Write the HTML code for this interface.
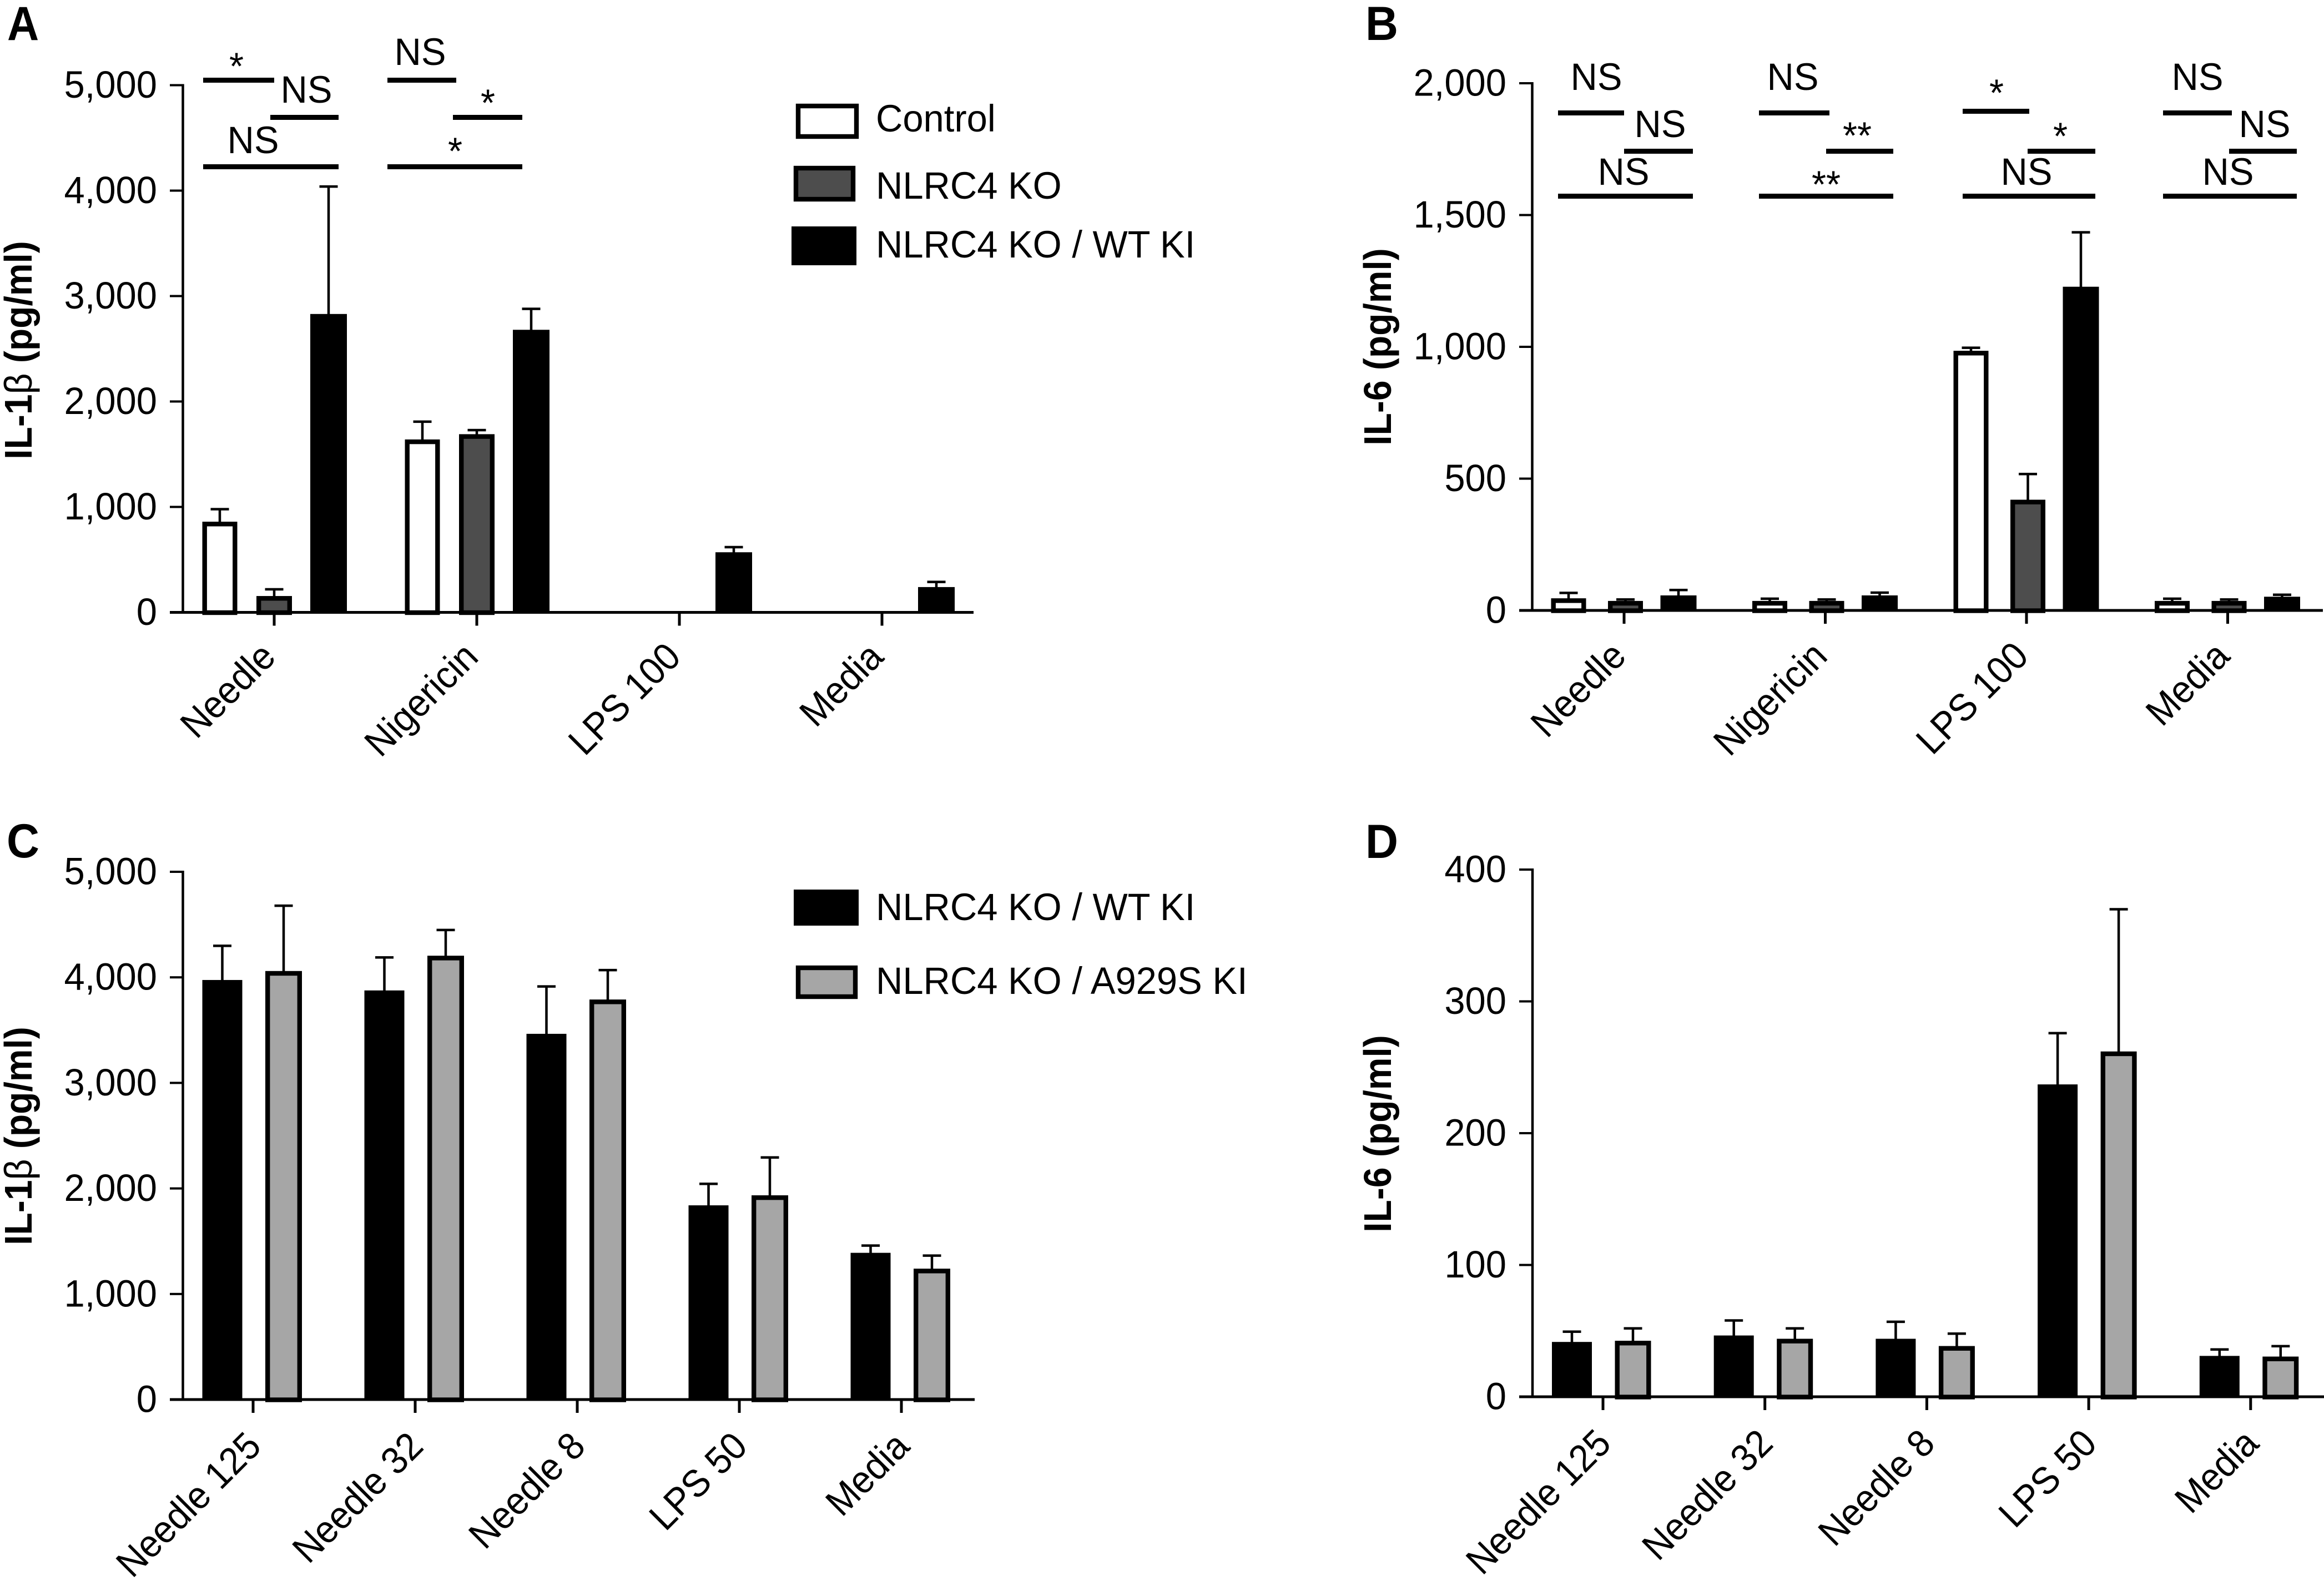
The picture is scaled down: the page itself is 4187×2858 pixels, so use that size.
<!DOCTYPE html>
<html lang="en">
<head>
<meta charset="utf-8">
<title>IL-1β and IL-6 bar charts</title>
<style>
html,body{margin:0;padding:0;background:#fff;}
svg{display:block;}
text{font-family:"Liberation Sans",sans-serif;fill:#000;}
.t{font-size:69px;}
.b{font-size:66px;font-weight:bold;}
.bn{font-weight:normal;}
.l{font-size:86px;font-weight:bold;}
.s{fill:#000;}
</style>
</head>
<body>
<svg id="fig" xmlns="http://www.w3.org/2000/svg" width="4187" height="2858" viewBox="0 0 4187 2858">
<rect width="4187" height="2858" fill="#fff"/>

<g id="panel-a">
  <text class="l" transform="translate(13 72) scale(.92 1)">A</text>
  <text class="b" text-anchor="middle" transform="translate(57 631) scale(1.06 1) rotate(-90)">IL-1<tspan class="bn">β</tspan> (pg/ml)</text>
  <g>
    <rect class="s" x="366" y="140" width="128" height="9"/>
    <rect class="s" x="487" y="207" width="123" height="9"/>
    <rect class="s" x="366" y="296" width="244" height="9"/>
    <rect class="s" x="698" y="140" width="124" height="9"/>
    <rect class="s" x="816" y="207" width="125" height="9"/>
    <rect class="s" x="698" y="296" width="243" height="9"/>
    <text class="t" text-anchor="middle" transform="translate(426 143) scale(.97 1)">*</text>
    <text class="t" text-anchor="middle" transform="translate(552 185) scale(.97 1)">NS</text>
    <text class="t" text-anchor="middle" transform="translate(456 276) scale(.97 1)">NS</text>
    <text class="t" text-anchor="middle" transform="translate(757 117) scale(.97 1)">NS</text>
    <text class="t" text-anchor="middle" transform="translate(879 209) scale(.97 1)">*</text>
    <text class="t" text-anchor="middle" transform="translate(820 296) scale(.97 1)">*</text>
  </g>
  <g>
    <rect x="1438" y="191" width="105" height="55" fill="#fff" stroke="#000" stroke-width="8.4"/>
    <rect x="1434" y="303" width="103" height="56" fill="#4d4d4d" stroke="#000" stroke-width="8.4"/>
    <rect x="1426" y="408" width="117" height="70" fill="#000"/>
    <text class="t" transform="translate(1578 237) scale(.97 1)">Control</text>
    <text class="t" transform="translate(1578 358) scale(.97 1)">NLRC4 KO</text>
    <text class="t" transform="translate(1578 464) scale(.97 1)">NLRC4 KO / WT KI</text>
  </g>
</g>

<g id="panel-b">
  <text class="l" transform="translate(2460 72) scale(.95 1)">B</text>
  <text class="b" text-anchor="middle" transform="translate(2506 625) scale(1.06 1) rotate(-90)">IL-6 (pg/ml)</text>
  <g>
    <rect class="s" x="2807" y="199" width="119" height="9"/>
    <rect class="s" x="2926" y="268" width="124" height="9"/>
    <rect class="s" x="2807" y="349" width="243" height="9"/>
    <rect class="s" x="3169" y="199" width="127" height="9"/>
    <rect class="s" x="3290" y="268" width="121" height="9"/>
    <rect class="s" x="3169" y="349" width="242" height="9"/>
    <rect class="s" x="3536" y="196" width="120" height="9"/>
    <rect class="s" x="3653" y="268" width="122" height="9"/>
    <rect class="s" x="3536" y="349" width="239" height="9"/>
    <rect class="s" x="3897" y="199" width="124" height="9"/>
    <rect class="s" x="4016" y="268" width="122" height="9"/>
    <rect class="s" x="3897" y="349" width="241" height="9"/>
    <text class="t" text-anchor="middle" transform="translate(2876 162) scale(.97 1)">NS</text>
    <text class="t" text-anchor="middle" transform="translate(2991 247) scale(.97 1)">NS</text>
    <text class="t" text-anchor="middle" transform="translate(2925 333) scale(.97 1)">NS</text>
    <text class="t" text-anchor="middle" transform="translate(3230 162) scale(.97 1)">NS</text>
    <text class="t" text-anchor="middle" transform="translate(3346 268) scale(.97 1)">**</text>
    <text class="t" text-anchor="middle" transform="translate(3290 356) scale(.97 1)">**</text>
    <text class="t" text-anchor="middle" transform="translate(3597 191) scale(.97 1)">*</text>
    <text class="t" text-anchor="middle" transform="translate(3712 269) scale(.97 1)">*</text>
    <text class="t" text-anchor="middle" transform="translate(3651 333) scale(.97 1)">NS</text>
    <text class="t" text-anchor="middle" transform="translate(3959 162) scale(.97 1)">NS</text>
    <text class="t" text-anchor="middle" transform="translate(4080 247) scale(.97 1)">NS</text>
    <text class="t" text-anchor="middle" transform="translate(4014 333) scale(.97 1)">NS</text>
  </g>
</g>

<g id="panel-c">
  <text class="l" transform="translate(12 1545) scale(.95 1)">C</text>
  <text class="b" text-anchor="middle" transform="translate(57 2047) scale(1.06 1) rotate(-90)">IL-1<tspan class="bn">β</tspan> (pg/ml)</text>
  <g>
    <rect x="1430" y="1603" width="117" height="65" fill="#000"/>
    <rect x="1438" y="1744" width="103" height="52" fill="#a6a6a6" stroke="#000" stroke-width="8.4"/>
    <text class="t" transform="translate(1578 1658) scale(.97 1)">NLRC4 KO / WT KI</text>
    <text class="t" transform="translate(1578 1791) scale(.97 1)">NLRC4 KO / A929S KI</text>
  </g>
</g>

<g id="panel-d">
  <text class="l" transform="translate(2460 1546) scale(.95 1)">D</text>
  <text class="b" text-anchor="middle" transform="translate(2506 2043) scale(1.06 1) rotate(-90)">IL-6 (pg/ml)</text>
</g>
</svg>

<script>
// Panel A data
const aCategories = ['Needle', 'Nigericin', 'LPS 100', 'Media'];
const aTicks = [0, 1000, 2000, 3000, 4000, 5000];
const aTickLabels = ['0', '1,000', '2,000', '3,000', '4,000', '5,000'];
const aControl = [860, 1640, null, null];
const aControlErr = [980, 1810, null, null];
const aKo = [155, 1690, null, null];
const aKoErr = [220, 1730, null, null];
const aWt = [2830, 2680, 570, 240];
const aWtErr = [4040, 2880, 620, 290];

// Panel B data
const bCategories = ['Needle', 'Nigericin', 'LPS 100', 'Media'];
const bTicks = [0, 500, 1000, 1500, 2000];
const bTickLabels = ['0', '500', '1,000', '1,500', '2,000'];
const bControl = [46, 36, 985, 36];
const bControlErr = [67, 45, 997, 45];
const bKo = [36, 36, 420, 36];
const bKoErr = [42, 42, 518, 42];
const bWt = [57, 57, 1228, 52];
const bWtErr = [78, 68, 1435, 60];

// Panel C data
const cCategories = ['Needle 125', 'Needle 32', 'Needle 8', 'LPS 50', 'Media'];
const cTicks = [0, 1000, 2000, 3000, 4000, 5000];
const cTickLabels = ['0', '1,000', '2,000', '3,000', '4,000', '5,000'];
const cWt = [3975, 3876, 3465, 1840, 1390];
const cWtErr = [4300, 4190, 3915, 2045, 1460];
const cA929s = [4060, 4205, 3790, 1935, 1240];
const cA929sErr = [4680, 4450, 4070, 2295, 1365];

// Panel D data
const dCategories = ['Needle 125', 'Needle 32', 'Needle 8', 'LPS 50', 'Media'];
const dTicks = [0, 100, 200, 300, 400];
const dTickLabels = ['0', '100', '200', '300', '400'];
const dWt = [41.6, 46.5, 44, 237, 31];
const dWtErr = [49.5, 58, 57, 276, 36];
const dA929s = [42.5, 44, 38.5, 262, 30.5];
const dA929sErr = [52, 52, 48, 370, 38.5];

const NS = 'http://www.w3.org/2000/svg';
const TEXT_SX = 0.97;
const ROT_SX = 0.945;

function shape(parent, tag, attrs) {
  const el = document.createElementNS(NS, tag);
  Object.keys(attrs).forEach(function (k) { el.setAttribute(k, attrs[k]); });
  parent.appendChild(el);
  return el;
}

function drawPanel(cfg) {
  const g = document.getElementById(cfg.id);
  const yScale = function (v) { return cfg.y0 - (v / cfg.yMax) * (cfg.y0 - cfg.yTop); };
  const xScale = function (i) { return cfg.x0 + i * cfg.step; };

  cfg.series.forEach(function (s) {
    s.values.forEach(function (v, i) {
      if (v === null) return;
      const cx = xScale(i) + s.offset;
      const top = yScale(v);
      const errTop = yScale(s.errs[i]);

      const stem = shape(g, 'rect', { x: cx - 2.25, y: errTop, width: 4.5, height: top - errTop + 2, fill: '#000' });
      
      

      const cap = shape(g, 'rect', { x: cx - 16.5, y: errTop - 2, width: 33, height: 4.5, fill: '#000' });
      
      

      let bar;
      if (s.stroke) {
        bar = shape(g, 'rect', {
          x: cx - s.width / 2 + 4.2, y: top + 4.2, width: s.width - 8.4,
          height: Math.max(cfg.y0 + 0.5 - top - 4.2, 1), fill: s.fill, stroke: '#000', 'stroke-width': 8.4
        });
      } else {
        bar = shape(g, 'rect', { x: cx - s.width / 2, y: top, width: s.width, height: cfg.y0 - top, fill: s.fill });
      }
      
      
    });
  });

  const yAxis = shape(g, 'rect', { x: cfg.axisX - 2.25, y: cfg.yTop - 2, width: 4.5, height: cfg.y0 - cfg.yTop + 4, fill: '#000' });
  
  

  const xAxis = shape(g, 'rect', { x: cfg.tickLeft, y: cfg.y0 - 2.5, width: cfg.axisEnd - cfg.tickLeft, height: 5, fill: '#000' });
  
  

  cfg.ticks.forEach(function (t, i) {
    const y = yScale(t);
    const mark = shape(g, 'rect', { x: cfg.tickLeft, y: y - 2, width: cfg.axisX - cfg.tickLeft, height: 4, fill: '#000' });
    
    

    const label = shape(g, 'text', {
      'class': 't', 'text-anchor': 'end',
      transform: 'translate(' + (cfg.tickLeft - 23) + ' ' + (y + 22.5) + ') scale(' + TEXT_SX + ' 1)'
    });
    label.textContent = cfg.tickLabels[i];
    
    
  });

  cfg.categories.forEach(function (c, i) {
    const x = xScale(i);
    const mark = shape(g, 'rect', { x: x - 2.5, y: cfg.y0, width: 5, height: 24, fill: '#000' });
    
    

    const label = shape(g, 'text', {
      'class': 't', 'text-anchor': 'end',
      transform: 'translate(' + (x + cfg.labelDx) + ' ' + (cfg.y0 + cfg.labelDy) + ') rotate(-45) scale(' + ROT_SX + ' 1)'
    });
    label.textContent = c;
    
    
  });
}

drawPanel({
  id: 'panel-a', y0: 1103.5, yTop: 153.5, yMax: 5000, axisX: 329.5, tickLeft: 306, axisEnd: 1754,
  x0: 494, step: 365, labelDx: 6, labelDy: 84, categories: aCategories, ticks: aTicks, tickLabels: aTickLabels,
  series: [
    { key: 'control', values: aControl, errs: aControlErr, offset: -98, width: 63, fill: '#fff', stroke: true },
    { key: 'ko', values: aKo, errs: aKoErr, offset: 0, width: 64, fill: '#4d4d4d', stroke: true },
    { key: 'wt', values: aWt, errs: aWtErr, offset: 98, width: 66, fill: '#000', stroke: false }
  ]
});

drawPanel({
  id: 'panel-b', y0: 1100, yTop: 150, yMax: 2000, axisX: 2760.5, tickLeft: 2737, axisEnd: 4185,
  x0: 2926, step: 362.5, labelDx: 7, labelDy: 86, categories: bCategories, ticks: bTicks, tickLabels: bTickLabels,
  series: [
    { key: 'control', values: bControl, errs: bControlErr, offset: -100, width: 63, fill: '#fff', stroke: true },
    { key: 'ko', values: bKo, errs: bKoErr, offset: 2.5, width: 63, fill: '#4d4d4d', stroke: true },
    { key: 'wt', values: bWt, errs: bWtErr, offset: 98, width: 65, fill: '#000', stroke: false }
  ]
});

drawPanel({
  id: 'panel-c', y0: 2522, yTop: 1571, yMax: 5000, axisX: 329.5, tickLeft: 306, axisEnd: 1756,
  x0: 456, step: 292, labelDx: 18, labelDy: 88, categories: cCategories, ticks: cTicks, tickLabels: cTickLabels,
  series: [
    { key: 'wt', values: cWt, errs: cWtErr, offset: -55.5, width: 72, fill: '#000', stroke: false },
    { key: 'a929s', values: cA929s, errs: cA929sErr, offset: 55, width: 66, fill: '#a6a6a6', stroke: true }
  ]
});

drawPanel({
  id: 'panel-d', y0: 2517, yTop: 1567, yMax: 400, axisX: 2761, tickLeft: 2737, axisEnd: 4187,
  x0: 2888, step: 291.7, labelDx: 18, labelDy: 88, categories: dCategories, ticks: dTicks, tickLabels: dTickLabels,
  series: [
    { key: 'wt', values: dWt, errs: dWtErr, offset: -56, width: 72, fill: '#000', stroke: false },
    { key: 'a929s', values: dA929s, errs: dA929sErr, offset: 54, width: 65, fill: '#a6a6a6', stroke: true }
  ]
});
</script>
</body>
</html>
